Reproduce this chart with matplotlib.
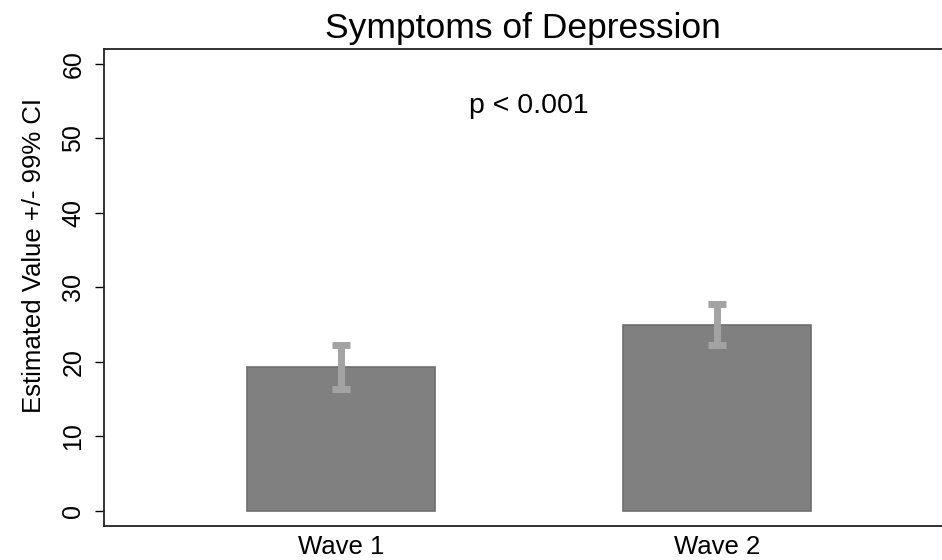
"""Bar chart of estimated depression symptom scores by survey wave, with 99% CIs."""

import matplotlib

matplotlib.use("Agg")

import matplotlib.pyplot as plt
import numpy as np

plt.rcParams["font.family"] = ["Liberation Sans", "DejaVu Sans"]

waves = ["Wave 1", "Wave 2"]
estimate = [19.3, 25.0]
ci_low = [16.4, 22.2]
ci_high = [22.3, 27.8]
p_label = "p < 0.001"

x = np.arange(1, len(waves) + 1)
est = np.array(estimate)
yerr = np.vstack([est - np.array(ci_low), np.array(ci_high) - est])

fig = plt.figure(figsize=(9.42, 5.6), dpi=100)
ax = fig.add_axes([104 / 942, 34 / 560, 838 / 942, 477 / 560])

ax.bar(x, est, width=0.5, color="#808080", edgecolor="#6e6e6e", linewidth=1.2, zorder=2)
ax.errorbar(x, est, yerr=yerr, fmt="none", ecolor="#a3a3a3", elinewidth=5,
            capsize=6.5, capthick=5, zorder=3)

ax.text(1.5, 53.4, p_label, ha="center", va="baseline", fontsize=20.5)

ax.set_xlim(0.370, 2.597)
ax.set_ylim(-2.05, 62.0)
ax.set_yticks(range(0, 61, 10))
ax.set_xticks(x)
ax.set_xticklabels(waves)

ax.tick_params(axis="y", length=6.5, width=1, labelsize=18, pad=7, labelrotation=90)
for lab in ax.get_yticklabels():
    lab.set_verticalalignment("center")
ax.tick_params(axis="x", length=0, labelsize=18.5, pad=6.5)

ax.set_ylabel("Estimated Value +/- 99% CI", fontsize=18.5)
ax.yaxis.set_label_coords(-0.069, 0.568)
ax.set_title("Symptoms of Depression", fontsize=25.5, pad=8)

ax.spines["right"].set_visible(False)
for side in ("left", "top", "bottom"):
    ax.spines[side].set_color("#222222")
    ax.spines[side].set_linewidth(1.3)

fig.savefig("out.png", dpi=100)
